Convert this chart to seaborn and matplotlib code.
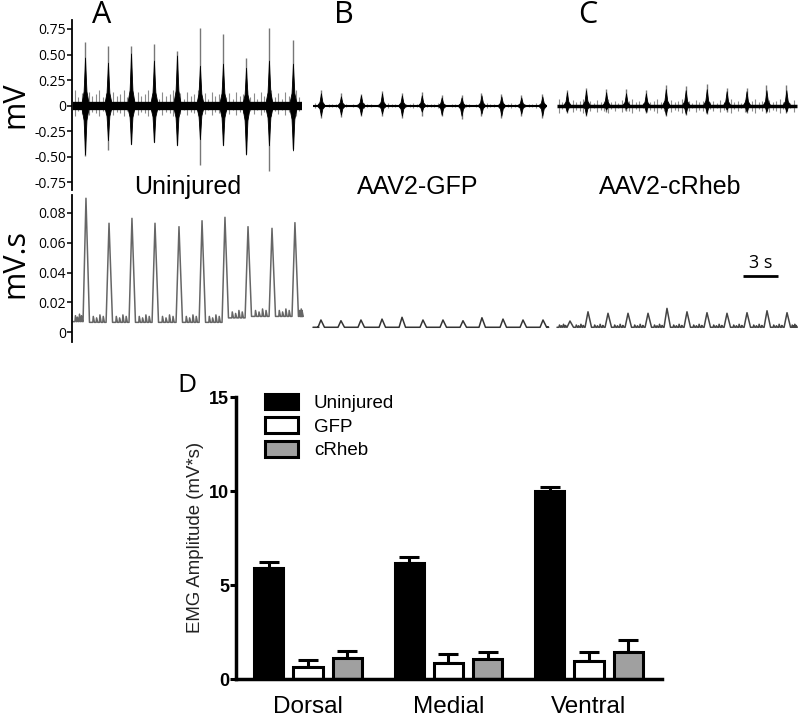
import numpy as np
import pandas as pd
import matplotlib
matplotlib.use('Agg')
import matplotlib.pyplot as plt
import seaborn as sns

sns.set_style('ticks')
plt.rcParams['font.family'] = ['Open Sans', 'DejaVu Sans']
for key in ('text.color', 'axes.labelcolor', 'xtick.color', 'ytick.color', 'axes.edgecolor'):
    plt.rcParams[key] = 'black'

# ---------------- EMG raw traces (time in s from trace start, mV) ----------------
a_len = 19.6
a_burst_t = [1.03, 2.99, 4.96, 6.92, 8.89, 10.85, 12.82, 14.79, 16.75, 18.8]
a_burst_hi = [0.47, 0.42, 0.51, 0.44, 0.49, 0.39, 0.41, 0.37, 0.44, 0.41]
a_burst_lo = [-0.48, -0.34, -0.38, -0.36, -0.39, -0.33, -0.39, -0.48, -0.39, -0.44]
a_spike_hi = [0.62, 0.58, 0.58, 0.60, 0.53, 0.76, 0.70, 0.47, 0.76, 0.64]
a_spike_lo = [-0.49, -0.44, -0.38, -0.36, -0.39, -0.58, -0.39, -0.48, -0.64, -0.43]

b_len = 20.0
b_burst_t = [0.68, 2.39, 4.1, 5.9, 7.6, 9.3, 11.0, 12.7, 14.4, 16.1, 17.8, 19.6]
b_burst_hi = [0.12, 0.09, 0.10, 0.12, 0.10, 0.10, 0.08, 0.08, 0.10, 0.09, 0.08, 0.09]
b_burst_lo = [-0.10, -0.09, -0.09, -0.08, -0.10, -0.06, -0.09, -0.10, -0.08, -0.10, -0.08, -0.10]
b_spike_hi = [0.15, 0.12, 0.11, 0.14, 0.12, 0.13, 0.10, 0.10, 0.12, 0.11, 0.10, 0.11]
b_spike_lo = [-0.12, -0.11, -0.10, -0.10, -0.12, -0.10, -0.10, -0.13, -0.10, -0.12, -0.10, -0.12]

c_len = 20.5
c_burst_t = [0.85, 2.48, 4.2, 5.9, 7.6, 9.3, 11.0, 12.8, 14.5, 16.2, 17.9, 19.6]
c_burst_hi = [0.13, 0.15, 0.13, 0.12, 0.12, 0.16, 0.15, 0.16, 0.14, 0.14, 0.15, 0.15]
c_burst_lo = [-0.06, -0.09, -0.04, -0.03, -0.06, -0.09, -0.08, -0.07, -0.04, -0.06, -0.06, -0.06]
c_spike_hi = [0.15, 0.17, 0.16, 0.16, 0.15, 0.20, 0.19, 0.21, 0.17, 0.17, 0.20, 0.20]
c_spike_lo = [-0.07, -0.10, -0.06, -0.05, -0.07, -0.10, -0.09, -0.08, -0.06, -0.07, -0.07, -0.07]

# ---------------- integrated traces (mV.s) ----------------
a_int_t = [1.11, 3.08, 5.04, 7.01, 9.06, 11.03, 12.99, 14.96, 17.01, 18.97]
a_int_peak = [0.0899, 0.0731, 0.0764, 0.0731, 0.0708, 0.0748, 0.0771, 0.0708, 0.0697, 0.0735]
a_int_base = [0.007, 0.0065, 0.0065, 0.0065, 0.0065, 0.0065, 0.0065, 0.0095, 0.0105, 0.0105, 0.0105]
a_ripple = [0.004, 0.003, 0.005, 0.004]

b_int_t = [0.68, 2.39, 4.10, 5.90, 7.61, 9.40, 11.11, 12.82, 14.44, 16.24, 17.95, 19.66]
b_int_peak = [0.0081, 0.0076, 0.0081, 0.0087, 0.0099, 0.0081, 0.0081, 0.0076, 0.0096, 0.0087, 0.0081, 0.0081]
b_int_base = [0.0032] * 13
b_ripple = [0.0, 0.0, 0.0, 0.0]

c_int_t = [1.11, 2.65, 4.36, 6.07, 7.78, 9.40, 11.11, 12.82, 14.53, 16.24, 17.95, 19.66]
c_int_peak = [0.0074, 0.0136, 0.0126, 0.0126, 0.0126, 0.0159, 0.0136, 0.0130, 0.0126, 0.0130, 0.0143, 0.0130]
c_int_base = [0.0032] * 13
c_ripple = [0.0015, 0.001, 0.002, 0.0012]

# ---------------- bar chart (D) ----------------
regions = ['Dorsal', 'Medial', 'Ventral']
groups = ['Uninjured', 'GFP', 'cRheb']
uninjured = [5.92, 6.15, 10.0]
uninjured_err = [0.32, 0.32, 0.20]
gfp = [0.64, 0.87, 0.96]
gfp_err = [0.36, 0.46, 0.49]
crheb = [1.13, 1.05, 1.45]
crheb_err = [0.37, 0.37, 0.62]

# drawing helpers
noise_cycle = [1.0, 0.55, 0.8, 0.4, 0.9, 0.65, 0.75]
env_dt = [-0.28, -0.12, -0.04, 0, 0.04, 0.12, 0.28]
env_h = [0.08, 0.3, 0.75, 1.0, 0.75, 0.3, 0.08]


def draw_raw(ax, t0, length, bt, bhi, blo, shi, slo, base_lw, noise_up, noise_dn):
    nt = np.arange(t0 + 0.15, t0 + length, 0.3)
    scale = np.array(noise_cycle)[np.arange(len(nt)) % len(noise_cycle)]
    ax.vlines(nt, -noise_dn * scale, noise_up * scale, color='#8c8c8c', lw=0.8, zorder=2)
    ax.plot([t0, t0 + length], [0, 0], color='black', lw=base_lw,
            solid_capstyle='butt', zorder=3)
    for t, hi, lo, sh, sl in zip(bt, bhi, blo, shi, slo):
        tt = t0 + t + np.array(env_dt)
        ax.fill_between(tt, lo * np.array(env_h), hi * np.array(env_h),
                        color='black', lw=0.6, zorder=4)
        ax.vlines(t0 + t, sl, sh, color='#777777', lw=1.0, zorder=3)


def int_trace(t0, length, pt, pk, base, ripple):
    xs, ys = [t0], [base[0]]
    for i, b in enumerate(base):
        s = 0.0 if i == 0 else pt[i - 1] + 0.3
        e = pt[i] - 0.25 if i < len(pt) else length
        xs.append(t0 + s)
        ys.append(b)
        for j, h in enumerate(ripple):
            x = s + (e - s) * (j + 1) / (len(ripple) + 1)
            xs += [t0 + x, t0 + x + 0.04, t0 + x + 0.14]
            ys += [b, b + h, b]
        xs.append(t0 + e)
        ys.append(b)
        if i < len(pt):
            xs.append(t0 + pt[i])
            ys.append(pk[i])
    return xs, ys


fig = plt.figure(figsize=(8, 7.2), dpi=100)

px_per_s = 11.7
x_max = (800 - 72.5) / px_per_s
off_a = (73 - 72.5) / px_per_s
off_b = (313 - 72.5) / px_per_s
off_c = (557 - 72.5) / px_per_s

# --- top: raw EMG ---
ax1 = fig.add_axes([0.0906, 0.7361, 0.9094, 0.2361])
draw_raw(ax1, off_a, a_len, a_burst_t, a_burst_hi, a_burst_lo, a_spike_hi, a_spike_lo, 6, 0.15, 0.10)
draw_raw(ax1, off_b, b_len, b_burst_t, b_burst_hi, b_burst_lo, b_spike_hi, b_spike_lo, 1.5, 0.02, 0.02)
draw_raw(ax1, off_c, c_len, c_burst_t, c_burst_hi, c_burst_lo, c_spike_hi, c_spike_lo, 2.5, 0.06, 0.07)
ax1.set_xlim(0, x_max)
ax1.set_ylim(-0.828, 0.838)
ax1.set_yticks([0.75, 0.5, 0.25, 0, -0.25, -0.5, -0.75])
ax1.set_yticklabels(['0.75', '0.50', '0.25', '0', '-0.25', '-0.50', '-0.75'])
sns.despine(ax=ax1, bottom=True)
ax1.set_xticks([])

# --- middle: integrated EMG ---
ax2 = fig.add_axes([0.0906, 0.525, 0.9094, 0.2042])
for off, ln, pt, pk, base, rip, col in [
        (off_a, a_len, a_int_t, a_int_peak, a_int_base, a_ripple, '#666666'),
        (off_b, b_len, b_int_t, b_int_peak, b_int_base, b_ripple, '#333333'),
        (off_c, c_len, c_int_t, c_int_peak, c_int_base, c_ripple, '#444444')]:
    xs, ys = int_trace(off, ln, pt, pk, base, rip)
    sns.lineplot(x=xs, y=ys, ax=ax2, color=col, lw=1.1, estimator=None, sort=False)
ax2.set_xlim(0, x_max)
ax2.set_ylim(-0.0067, 0.0921)
ax2.set_yticks([0.08, 0.06, 0.04, 0.02, 0])
ax2.set_yticklabels(['0.08', '0.06', '0.04', '0.02', '0'])
sns.despine(ax=ax2, bottom=True)
ax2.set_xticks([])
# 3 s scale bar
ax2.plot([57.31, 60.31], [0.0376, 0.0376], color='black', lw=2, solid_capstyle='butt')
ax2.text(58.85, 0.0405, '3 s', ha='center', va='bottom', fontsize=13)

for ax in (ax1, ax2):
    ax.spines['left'].set_linewidth(1.3)
    ax.tick_params(axis='y', labelsize=10, length=3.5, width=1.1, pad=1)

fig.text(15 / 800, 1 - 105 / 720, 'mV', rotation=90, ha='center', va='center', fontsize=22)
fig.text(15 / 800, 1 - 263 / 720, 'mV.s', rotation=90, ha='center', va='center', fontsize=22)
for x, s in [(102, 'A'), (344, 'B'), (588, 'C')]:
    fig.text(x / 800, 1 - 15 / 720, s, ha='center', va='center', fontsize=22)
for x, s in [(188, 'Uninjured'), (418, 'AAV2-GFP'), (670, 'AAV2-cRheb')]:
    fig.text(x / 800, 1 - 187 / 720, s, ha='center', va='center', fontsize=18,
             family=['Liberation Sans', 'DejaVu Sans'])

# --- bottom: bar chart ---
arial = ['Liberation Sans', 'DejaVu Sans']
df = pd.DataFrame({
    'region': regions * 3,
    'group': np.repeat(groups, len(regions)),
    'amp': uninjured + gfp + crheb,
})
axd = fig.add_axes([0.295, 0.0569, 0.5325, 0.3917])
sns.barplot(data=df, x='region', y='amp', hue='group', order=regions, hue_order=groups,
            palette=['#000000', '#ffffff', '#a0a0a0'], edgecolor='black', linewidth=2.2,
            width=0.836, gap=0.256, errorbar=None, ax=axd)
for cont, errs in zip(axd.containers, [uninjured_err, gfp_err, crheb_err]):
    for bar, e in zip(cont, errs):
        x = bar.get_x() + bar.get_width() / 2
        h = bar.get_height()
        axd.errorbar(x, h, yerr=[[0], [e]], fmt='none', ecolor='black',
                     elinewidth=2.2, capsize=7.5, capthick=2.2, zorder=1)
        bar.set_zorder(2)
axd.set_xlim(-0.512, 2.52)
axd.set_ylim(0, 15)
axd.set_yticks([0, 5, 10, 15])
axd.set_xlabel('')
axd.set_ylabel('')
sns.despine(ax=axd)
for sp in ('left', 'bottom'):
    axd.spines[sp].set_linewidth(2.5)
axd.tick_params(axis='y', length=4, width=2.2, pad=1)
axd.tick_params(axis='x', length=0, pad=12)
for lab in axd.get_yticklabels():
    lab.set_fontweight('bold')
    lab.set_fontsize(13)
    lab.set_family(arial)
for lab in axd.get_xticklabels():
    lab.set_fontsize(17.5)
    lab.set_family(arial)
handles, labels = axd.get_legend_handles_labels()
axd.legend(handles, labels, loc='upper left', bbox_to_anchor=(0.068, 1.012), frameon=False,
           borderpad=0, borderaxespad=0, handlelength=1.78, handleheight=0.89,
           handletextpad=0.83, labelspacing=0.3, prop={'family': arial, 'size': 13.5})
fig.text(196 / 800, 1 - 537 / 720, 'EMG Amplitude (mV*s)', rotation=90, ha='center',
         va='center', fontsize=13.4, color='#222222', family=arial)
fig.text(187 / 800, 1 - 386 / 720, 'D', ha='center', va='center', fontsize=19)

fig.savefig('out.png', dpi=100)
